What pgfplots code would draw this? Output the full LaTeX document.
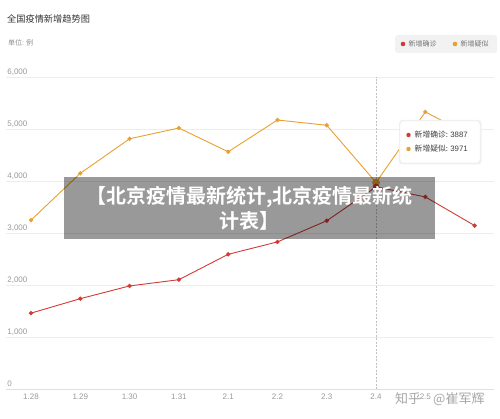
\documentclass[border=0pt]{standalone}
\usepackage{fontspec}
\setmainfont{Liberation Sans}
\newfontfamily\cjk{Noto Sans CJK SC}
\newfontfamily\cjkb{Noto Sans CJK SC Bold}
\usepackage{pgfplots}
\pgfplotsset{compat=1.18}
\definecolor{cred}{HTML}{D23A36}
\definecolor{corange}{HTML}{E8A030}
\definecolor{tickgray}{HTML}{999999}
\pgfplotstableread{
x confirmed suspected
0 1459 3248
1 1737 4148
2 1982 4812
3 2102 5019
4 2590 4562
5 2829 5173
6 3235 5072
7 3887 3971
8 3694 5328
9 3143 4833
}\datatable
\begin{document}
\begin{tikzpicture}[x=1pt,y=1pt]
\path[use as bounding box] (0,0) rectangle (500,418);
\begin{axis}[
  at={(6.35pt,29pt)}, anchor=south west,
  scale only axis, width=488pt, height=312pt,
  xmin=-0.5, xmax=9.4, ymin=0, ymax=6000,
  axis lines*=left,
  x axis line style={draw=black!12},
  y axis line style={draw=none},
  ymajorgrids, grid style={draw=black!7},
  major tick length=0pt,
  xtick={0,...,8},
  xticklabels={1.28,1.29,1.30,1.31,2.1,2.2,2.3,2.4,2.5},
  ytick={0,1000,...,6000},
  /pgf/number format/assume math mode=true,
  /pgf/number format/1000 sep={,},
  tick label style={font=\fontsize{8}{9}\selectfont, text=tickgray},
  xticklabel style={anchor=north, inner sep=0pt, yshift=-5pt},
  yticklabel style={anchor=base west, inner sep=0pt, xshift=0.8pt, yshift=2.5pt},
  clip=false,
]
\draw[black!25, dash pattern=on 2pt off 1.5pt] (axis cs:7,0) -- (axis cs:7,6000);
\addplot[color=corange, line width=0.9pt, mark=*, mark size=1.7pt] table[x=x,y=suspected] {\datatable};
\addplot[color=cred, line width=0.9pt, mark=*, mark size=1.7pt] table[x=x,y=confirmed] {\datatable};
\addplot[color=corange, only marks, mark=*, mark size=3.6pt] coordinates {(7,3971)};
\addplot[color=cred, only marks, mark=*, mark size=3pt] coordinates {(7,3887)};
\end{axis}
% title
\node[anchor=west, inner sep=0pt, text=black!80] at (7,399) {\cjk\fontsize{9.2}{10}\selectfont 全国疫情新增趋势图};
\node[anchor=west, inner sep=0pt, text=black!45] at (8,375) {\cjk\fontsize{7}{8}\selectfont 单位: 例};
% legend
\fill[black!5, rounded corners=3pt] (395,365) rectangle (497,383);
\fill[cred] (403,374) circle (2.3);
\node[anchor=west, inner sep=0pt, text=black!55] at (408.5,374) {\cjk\fontsize{7}{8}\selectfont 新增确诊};
\fill[corange] (455,374) circle (2.3);
\node[anchor=west, inner sep=0pt, text=black!55] at (460.5,374) {\cjk\fontsize{7}{8}\selectfont 新增疑似};
% tooltip
\fill[black!6, rounded corners=3pt] (399,253.5) rectangle (481.5,298);
\filldraw[fill=white, draw=black!8, rounded corners=3pt] (400,255) rectangle (480,297);
\fill[cred] (408.5,283) circle (2.2);
\node[anchor=west, inner sep=0pt, text=black!75] at (414.5,283) {\cjk\fontsize{7.8}{9}\selectfont 新增确诊: \rmfamily 3887};
\fill[corange] (408.5,269) circle (2.2);
\node[anchor=west, inner sep=0pt, text=black!75] at (414.5,269) {\cjk\fontsize{7.8}{9}\selectfont 新增疑似: \rmfamily 3971};
% overlay banner
\fill[black, opacity=0.4] (64,179) rectangle (435,241);
\node[align=center, text=white, inner sep=0pt, font={\cjkb\fontsize{20}{25}\selectfont}] at (249.5,210) {【北京疫情最新统计,北京疫情最新统\\计表】};
% watermark
\node[anchor=west, inner sep=0pt, text=black!35] at (395,18.5) {\cjk\fontsize{13}{14}\selectfont 知乎\hspace{12pt}@崔军辉};
\end{tikzpicture}
\end{document}
